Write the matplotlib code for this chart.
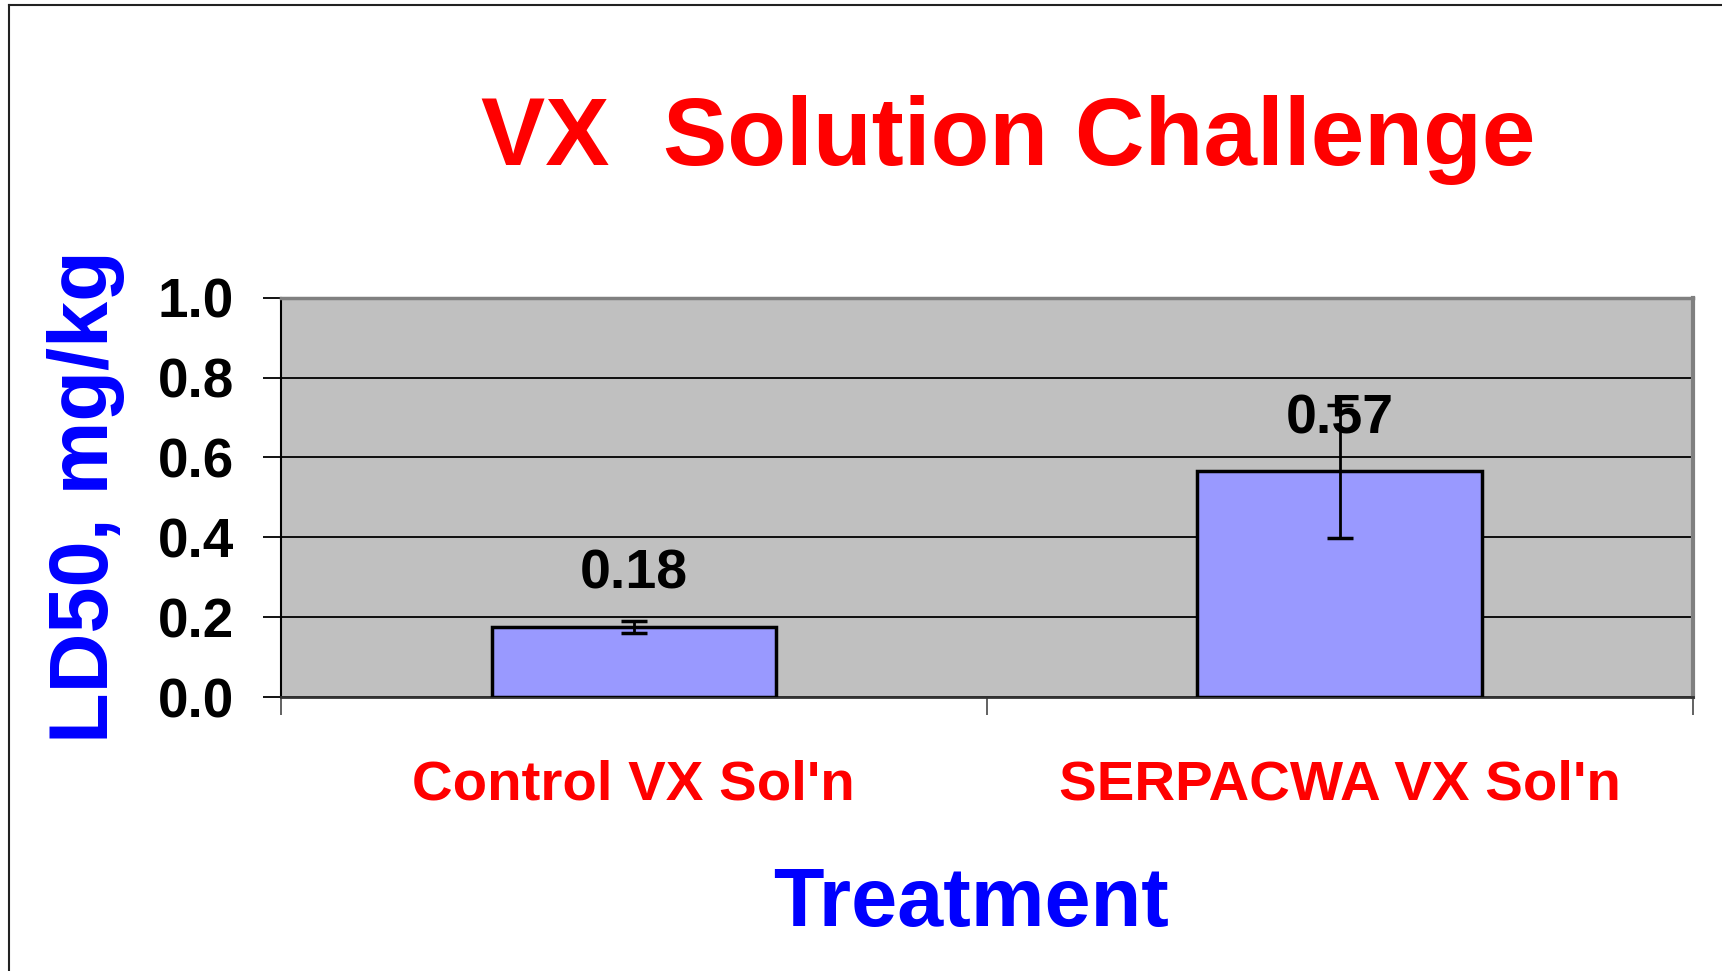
import matplotlib
matplotlib.use("Agg")
import matplotlib.pyplot as plt
import matplotlib.transforms as mtransforms
from matplotlib.lines import Line2D

categories = ["Control VX Sol'n", "SERPACWA VX Sol'n"]
values = [0.175, 0.565]
errors = [0.015, 0.167]
value_labels = ["0.18", "0.57"]
yticks = [0.0, 0.2, 0.4, 0.6, 0.8, 1.0]
ytick_labels = ["0.0", "0.2", "0.4", "0.6", "0.8", "1.0"]

plt.rcParams['font.family'] = ['Liberation Sans', 'DejaVu Sans']
plt.rcParams['font.weight'] = 'bold'

W, H = 1722, 971
fig = plt.figure(figsize=(W / 100, H / 100), dpi=100)
fig.patch.set_facecolor('white')

ax = fig.add_axes([281 / W, 1 - 697 / H, (1692.5 - 281) / W, (697 - 297.7) / H])
ax.set_facecolor('#C0C0C0')
ax.set_xlim(-0.5, 1.5)
ax.set_ylim(0, 1.0)

x = list(range(len(categories)))
ax.bar(x, values, width=0.403, color='#9999FF', edgecolor='black', linewidth=2.5, zorder=3)

# value labels
for xi, v, lab in zip(x, values, value_labels):
    ax.annotate(lab, (xi, v), xytext=(0, 27.5), textcoords='offset points',
                ha='center', va='baseline', fontsize=40, fontweight='bold',
                color='black', zorder=4)

ax.errorbar(x, values, yerr=errors, fmt='none', ecolor='black', elinewidth=2,
            capsize=9.7, capthick=2.5, zorder=5)

# grid
ax.set_yticks(yticks)
ax.set_yticklabels(ytick_labels)
ax.yaxis.grid(True, color='black', linewidth=1.3, zorder=1)
ax.set_axisbelow(True)
ax.tick_params(axis='y', length=13, width=1.3, color='black', pad=21,
               labelsize=39.5, labelcolor='black')
for t in ax.get_yticklabels():
    t.set_fontweight('bold')

# x ticks: minor ticks at category boundaries, labels as text
ax.set_xticks([])
ax.set_xticks([-0.5, 0.5, 1.5], minor=True)
ax.tick_params(axis='x', which='minor', length=13, width=1.3, color='#555555', direction='out')

trans = mtransforms.blended_transform_factory(ax.transData, fig.transFigure)
for xi, c in zip(x, categories):
    ax.text(xi, 1 - 799 / H, c, transform=trans, ha='center', va='baseline',
            fontsize=40.6, fontweight='bold', color='#FF0000', clip_on=False)

# spines
ax.spines['left'].set_color('black')
ax.spines['left'].set_linewidth(1.5)
ax.spines['bottom'].set_color('#333333')
ax.spines['bottom'].set_linewidth(2)
ax.spines['top'].set_color('#808080')
ax.spines['top'].set_linewidth(2.5)
ax.spines['right'].set_color('#808080')
ax.spines['right'].set_linewidth(3)

# title and axis labels
fig.text(1008 / W, 1 - 165 / H, "VX  Solution Challenge", ha='center', va='baseline',
         fontsize=69.3, fontweight='bold', color='#FF0000')
fig.text(971 / W, 1 - 926 / H, "Treatment", ha='center', va='baseline',
         fontsize=59.6, fontweight='bold', color='#0000FF')
fig.text(108 / W, 1 - 497 / H, "LD50, mg/kg", ha='center', va='baseline',
         rotation=90, rotation_mode='anchor',
         fontsize=59.8, fontweight='bold', color='#0000FF')

# outer border (left and top)
fig.add_artist(Line2D([9 / W, 9 / W], [0, 1 - 5 / H], transform=fig.transFigure,
                      color='#222222', linewidth=1.5))
fig.add_artist(Line2D([9 / W, 1], [1 - 5 / H, 1 - 5 / H], transform=fig.transFigure,
                      color='#222222', linewidth=1.5))

fig.savefig('out.png', dpi=100)
